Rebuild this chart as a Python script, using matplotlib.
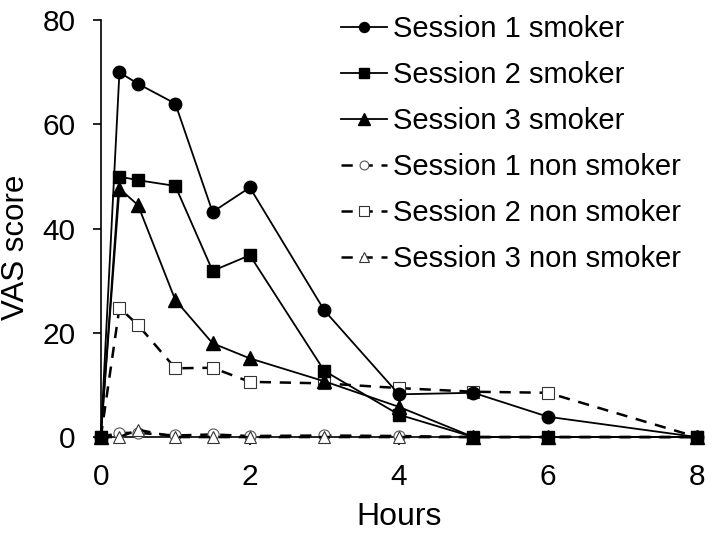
import numpy as np
import matplotlib.pyplot as plt

plt.rcParams['font.family'] = ['Liberation Sans', 'DejaVu Sans']

# time points (hours)
hours = [0, 0.25, 0.5, 1, 1.5, 2, 3, 4, 5, 6, 8]

# VAS scores
s1_smoker = [0, 70.0, 67.8, 64.0, 43.2, 47.9, 24.3, 8.2, 8.5, 3.9, 0]
s2_smoker = [0, 50.0, 49.3, 48.2, 31.9, 34.9, 12.7, 4.3, 0, 0, 0]
s3_smoker = [0, 47.7, 44.5, 26.3, 18.0, 15.1, 10.7, 5.8, 0, 0, 0]
s1_non = [0, 0.8, 0.8, 0.3, 0.5, 0.2, 0.3, 0.2, 0, 0, 0]
s2_non = [0, 24.8, 21.5, 13.2, 13.3, 10.6, 10.3, 9.4, 8.7, 8.5, 0]
s3_non = [0, 0, 1.4, 0, 0, 0, 0, 0, 0, 0, 0]

labels = ['Session 1 smoker', 'Session 2 smoker', 'Session 3 smoker',
          'Session 1 non smoker', 'Session 2 non smoker', 'Session 3 non smoker']

fig = plt.figure(figsize=(7.2, 5.33), dpi=100)
ax = fig.add_axes([0.140, 0.180, 0.828, 0.782])

# smokers: solid line, filled markers
ax.plot(hours, s1_smoker, '-', color='black', lw=1.3, marker='o', ms=9,
        mfc='black', mec='black', clip_on=False, label=labels[0], zorder=4)
ax.plot(hours, s2_smoker, '-', color='black', lw=1.3, marker='s', ms=8.5,
        mfc='black', mec='black', clip_on=False, label=labels[1], zorder=4)
ax.plot(hours, s3_smoker, '-', color='black', lw=1.3, marker='^', ms=10,
        mfc='black', mec='black', clip_on=False, label=labels[2], zorder=4)

# non smokers: dashed line, open markers
ax.plot(hours, s1_non, '--', color='black', lw=1.8, dashes=(4.5, 3.5), marker='o', ms=8,
        mfc='white', mec='#555555', mew=0.8, clip_on=False, label=labels[3], zorder=3)
ax.plot(hours, s2_non, '--', color='black', lw=1.8, dashes=(4.5, 3.5), marker='s', ms=9,
        mfc='white', mec='#333333', mew=0.8, clip_on=False, label=labels[4], zorder=3)
ax.plot(hours, s3_non, '--', color='black', lw=1.8, dashes=(4.5, 3.5), marker='^', ms=9,
        mfc='white', mec='#333333', mew=0.8, clip_on=False, label=labels[5], zorder=3)

ax.set_xlim(0, 8)
ax.set_ylim(0, 80)
ax.set_xticks([0, 2, 4, 6, 8])
ax.set_yticks([0, 20, 40, 60, 80])
ax.spines['top'].set_visible(False)
ax.spines['right'].set_visible(False)
ax.spines['left'].set_linewidth(1.2)
ax.spines['bottom'].set_linewidth(1.2)
ax.tick_params(direction='out', length=6, width=1.2, labelsize=21.5)
ax.tick_params(axis='y', pad=12)
ax.tick_params(axis='x', pad=13)

ax.set_xlabel('Hours', fontsize=23)
ax.set_ylabel('VAS score', fontsize=22.5)
ax.xaxis.set_label_coords(0.5, -0.155)
ax.yaxis.set_label_coords(-0.117, 0.456)

ax.legend(loc='upper left', bbox_to_anchor=(0.457, 0.994), bbox_transform=fig.transFigure,
          frameon=False, fontsize=21, handlelength=1.6, handletextpad=0.2,
          labelspacing=0.62, borderaxespad=0.0, markerscale=0.8)

fig.savefig('out.png', dpi=100)
